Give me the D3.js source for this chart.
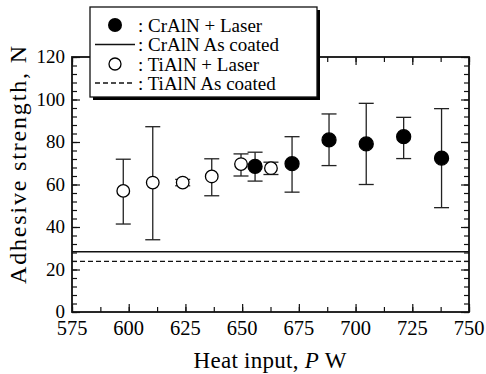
<!DOCTYPE html>
<html>
<head>
<meta charset="utf-8">
<script src="https://cdn.jsdelivr.net/npm/d3@7"></script>
<style>
  body { margin: 0; background: #fff; }
  text { font-family: 'Liberation Serif', 'DejaVu Serif', serif; }
</style>
</head>
<body>
<svg id="chart" width="486" height="374"></svg>
<script>
// CrAlN + Laser (filled)
const crPower = [655.7, 672.0, 688.3, 704.7, 721.2, 737.9];
const crMean  = [68.5, 69.8, 81.0, 79.1, 82.5, 72.4];
const crHigh  = [75.2, 82.5, 93.2, 98.2, 91.6, 95.7];
const crLow   = [61.6, 56.4, 68.9, 60.0, 72.2, 49.1];

// TiAlN + Laser (open)
const tiPower = [597.6, 610.6, 623.8, 636.6, 649.5, 662.7];
const tiMean  = [57.0, 60.9, 60.9, 63.8, 69.6, 67.7];
const tiHigh  = [71.9, 87.2, 62.4, 72.1, 74.4, 70.5];
const tiLow   = [41.4, 34.0, 59.4, 54.7, 64.0, 64.7];

// As coated reference levels
const crAsCoated = 28.4;
const tiAsCoated = 23.8;

const xTicks = [575, 600, 625, 650, 675, 700, 725, 750];
const yTicks = [0, 20, 40, 60, 80, 100, 120];

const legendLabels = [': CrAlN + Laser', ': CrAlN As coated', ': TiAlN + Laser', ': TiAlN As coated'];

const margin = { top: 57, right: 17, bottom: 62, left: 72 };
const width = 486 - margin.left - margin.right,
    height = 374 - margin.top - margin.bottom;

const svg = d3.select('#chart');
const g = svg.append('g').attr('transform', `translate(${margin.left},${margin.top})`);

const x = d3.scaleLinear().domain([575, 750]).range([0, width]);
const y = d3.scaleLinear().domain([0, 120]).range([height, 0]);

const xMinor = d3.range(575, 750.1, 12.5);
const yMinor = d3.range(0, 120.1, 4);

// ticks pointing inward on all four sides
function ticks(sel, axis, len) {
    sel.call(axis.tickSize(len).tickSizeOuter(0).tickFormat(''))
        .call(s => s.select('.domain').remove())
        .selectAll('line').attr('stroke', '#111').attr('stroke-width', 1.2);
}
g.append('g').attr('transform', `translate(0,${height})`).call(ticks, d3.axisTop(x).tickValues(xMinor), 5);
g.append('g').call(ticks, d3.axisBottom(x).tickValues(xMinor), 5);
g.append('g').call(ticks, d3.axisRight(y).tickValues(yMinor), 5);
g.append('g').attr('transform', `translate(${width},0)`).call(ticks, d3.axisLeft(y).tickValues(yMinor), 5);
g.append('g').attr('transform', `translate(0,${height})`).call(ticks, d3.axisTop(x).tickValues(xTicks), 8);
g.append('g').call(ticks, d3.axisBottom(x).tickValues(xTicks), 8);
g.append('g').call(ticks, d3.axisRight(y).tickValues(yTicks), 8);
g.append('g').attr('transform', `translate(${width},0)`).call(ticks, d3.axisLeft(y).tickValues(yTicks), 8);

// frame
g.append('rect').attr('width', width).attr('height', height)
    .attr('fill', 'none').attr('stroke', '#111').attr('stroke-width', 1.8);

// tick labels
g.append('g').selectAll('text').data(xTicks).join('text')
    .attr('x', d => x(d)).attr('y', height + 23)
    .attr('text-anchor', 'middle').attr('font-size', 20.5).text(d => d);
g.append('g').selectAll('text').data(yTicks).join('text')
    .attr('x', -7).attr('y', d => y(d) + 6)
    .attr('text-anchor', 'end').attr('font-size', 19).text(d => d);

// axis titles
const xt = svg.append('text').attr('x', 270).attr('y', 368)
    .attr('text-anchor', 'middle').attr('font-size', 23)
    .attr('textLength', 153).attr('lengthAdjust', 'spacing');
xt.append('tspan').text('Heat input, ');
xt.append('tspan').attr('font-style', 'italic').text('P');
xt.append('tspan').text(' W');
svg.append('text').attr('transform', 'translate(26,165) rotate(-90)')
    .attr('text-anchor', 'middle').attr('font-size', 24)
    .attr('textLength', 238).attr('lengthAdjust', 'spacing')
    .text('Adhesive strength, N');

// as coated lines
g.append('line').attr('x1', 0).attr('x2', width)
    .attr('y1', y(crAsCoated)).attr('y2', y(crAsCoated))
    .attr('stroke', '#111').attr('stroke-width', 1.5);
g.append('line').attr('x1', 0).attr('x2', width)
    .attr('y1', y(tiAsCoated)).attr('y2', y(tiAsCoated))
    .attr('stroke', '#111').attr('stroke-width', 1.3).attr('stroke-dasharray', '5,3');

// error bars + points
function series(px, mean, hi, lo, filled) {
    const d = px.map((p, i) => ({ p, m: mean[i], hi: hi[i], lo: lo[i] }));
    const eb = g.append('g').attr('stroke', '#222').attr('stroke-width', 1.3);
    eb.selectAll('.v').data(d).join('line').attr('class', 'v')
        .attr('x1', d => x(d.p)).attr('x2', d => x(d.p))
        .attr('y1', d => y(d.hi)).attr('y2', d => y(d.lo));
    eb.selectAll('.ch').data(d).join('line').attr('class', 'ch')
        .attr('x1', d => x(d.p) - 7.5).attr('x2', d => x(d.p) + 7.5)
        .attr('y1', d => y(d.hi)).attr('y2', d => y(d.hi));
    eb.selectAll('.cl').data(d).join('line').attr('class', 'cl')
        .attr('x1', d => x(d.p) - 7.5).attr('x2', d => x(d.p) + 7.5)
        .attr('y1', d => y(d.lo)).attr('y2', d => y(d.lo));
    g.append('g').selectAll('circle').data(d).join('circle')
        .attr('cx', d => x(d.p)).attr('cy', d => y(d.m))
        .attr('r', filled ? 7 : 6.3)
        .attr('fill', filled ? '#000' : '#fff')
        .attr('stroke', '#000').attr('stroke-width', 1.3);
}
series(tiPower, tiMean, tiHigh, tiLow, false);
series(crPower, crMean, crHigh, crLow, true);

// legend
const lg = svg.append('g').attr('transform', 'translate(90,7)');
lg.append('rect').attr('x', 3).attr('y', 3).attr('width', 227).attr('height', 90).attr('fill', '#000');
lg.append('rect').attr('width', 227).attr('height', 90)
    .attr('fill', '#fff').attr('stroke', '#111').attr('stroke-width', 1.3);
const rowY = [18, 37.5, 57, 76];
lg.append('circle').attr('cx', 25).attr('cy', rowY[0]).attr('r', 7).attr('fill', '#000');
lg.append('line').attr('x1', 5).attr('x2', 45).attr('y1', rowY[1]).attr('y2', rowY[1])
    .attr('stroke', '#111').attr('stroke-width', 1.5);
lg.append('circle').attr('cx', 25).attr('cy', rowY[2]).attr('r', 6)
    .attr('fill', '#fff').attr('stroke', '#000').attr('stroke-width', 1.3);
lg.append('line').attr('x1', 5).attr('x2', 45).attr('y1', rowY[3]).attr('y2', rowY[3])
    .attr('stroke', '#111').attr('stroke-width', 1.3).attr('stroke-dasharray', '5,3');
lg.selectAll('.lt').data(legendLabels).join('text').attr('class', 'lt')
    .attr('x', 48).attr('y', (d, i) => rowY[i] + 6.5)
    .attr('font-size', 19).text(d => d);
</script>
</body>
</html>
